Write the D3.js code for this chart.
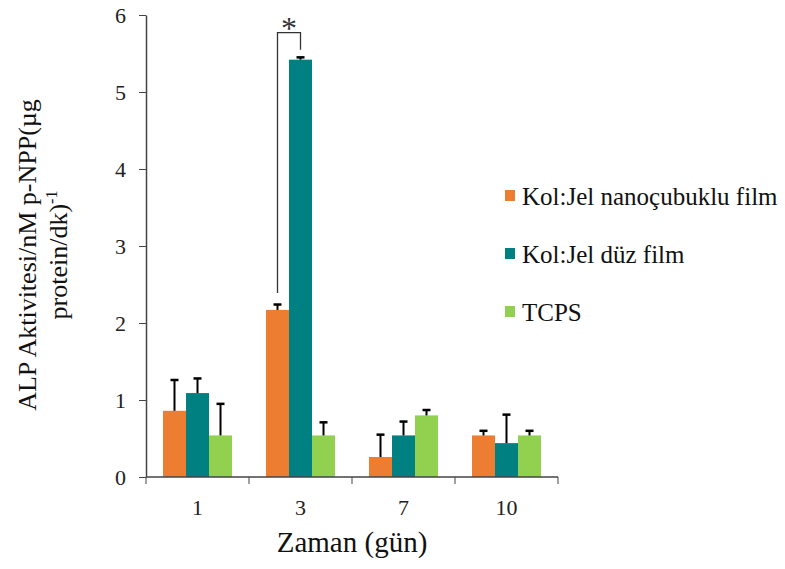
<!DOCTYPE html>
<html>
<head>
<meta charset="utf-8">
<script src="https://cdn.jsdelivr.net/npm/d3@7"></script>
<style>
  body { margin: 0; background: #fff; }
  svg text { font-family: "Liberation Serif", "Times New Roman", serif; }
</style>
</head>
<body>
<div class="container"></div>
<script>
const days = ["1", "3", "7", "10"];
const seriesNames = ["Kol:Jel nanoçubuklu film", "Kol:Jel düz film", "TCPS"];
const colors = ["#ED7D31", "#008080", "#92D050"];
const nanoValues = [0.86, 2.17, 0.26, 0.54];
const nanoErr = [0.40, 0.07, 0.29, 0.06];
const flatValues = [1.09, 5.42, 0.54, 0.44];
const flatErr = [0.19, 0.03, 0.18, 0.37];
const tcpsValues = [0.54, 0.54, 0.80, 0.54];
const tcpsErr = [0.41, 0.17, 0.07, 0.06];
const yTicks = [0, 1, 2, 3, 4, 5, 6];

const w = 785, h = 569;
const margin = {top: 15, left: 146, bottom: 92, right: 227};

const svg = d3.select('.container')
    .append('svg')
    .attr('width', w)
    .attr('height', h);

const series = [
    {values: nanoValues, err: nanoErr},
    {values: flatValues, err: flatErr},
    {values: tcpsValues, err: tcpsErr}
];

const x = d3.scaleBand()
    .domain(days)
    .range([margin.left, w - margin.right])
    .paddingInner(0.33)
    .paddingOuter(0.165);

const xSub = d3.scaleBand()
    .domain(d3.range(series.length))
    .range([0, x.bandwidth()]);

const y = d3.scaleLinear()
    .domain([0, 6])
    .range([h - margin.bottom, margin.top]);

// bars
series.forEach((s, si) => {
    svg.append('g')
        .selectAll('rect')
        .data(s.values)
        .enter()
        .append('rect')
        .attr('x', (d, i) => x(days[i]) + xSub(si))
        .attr('y', d => y(d))
        .attr('width', xSub.bandwidth())
        .attr('height', d => y(0) - y(d))
        .style('fill', colors[si]);

    // error bars (upper only)
    const eb = svg.append('g').attr('stroke', '#000');
    s.values.forEach((v, i) => {
        const cx = x(days[i]) + xSub(si) + xSub.bandwidth() / 2;
        eb.append('line')
            .attr('x1', cx).attr('x2', cx)
            .attr('y1', y(v)).attr('y2', y(v + s.err[i]))
            .attr('stroke-width', 2);
        eb.append('line')
            .attr('x1', cx - 4).attr('x2', cx + 4)
            .attr('y1', y(v + s.err[i])).attr('y2', y(v + s.err[i]))
            .attr('stroke-width', 2.5);
    });
});

// y axis
svg.append('g')
    .attr('transform', `translate(${margin.left},0)`)
    .call(d3.axisLeft(y).tickValues(yTicks).tickFormat(d3.format('d'))
        .tickSize(7).tickSizeOuter(0).tickPadding(13))
    .call(g => g.selectAll('text')
        .style('font-size', '22px')
        .style('font-family', '"Liberation Serif", serif')
        .attr('fill', '#222'))
    .call(g => g.select('.domain').attr('stroke', '#444').attr('stroke-width', 1.5))
    .call(g => g.selectAll('.tick line').attr('stroke', '#444'));

// x axis with ticks at band boundaries
const xAxisG = svg.append('g')
    .attr('transform', `translate(0,${y(0)})`);
xAxisG.append('line')
    .attr('x1', margin.left).attr('x2', w - margin.right)
    .attr('stroke', '#444').attr('stroke-width', 1.5);
const step = x.step();
const bounds = days.map(d => x(d) - x.paddingInner() * step / 2).concat([w - margin.right]);
xAxisG.selectAll('.bt')
    .data(bounds)
    .enter()
    .append('line')
    .attr('x1', d => d).attr('x2', d => d)
    .attr('y1', 0).attr('y2', 7)
    .attr('stroke', '#444');
xAxisG.selectAll('text')
    .data(days)
    .enter()
    .append('text')
    .attr('x', d => x(d) + x.bandwidth() / 2)
    .attr('y', 38)
    .attr('text-anchor', 'middle')
    .style('font-size', '22px')
    .attr('fill', '#222')
    .text(d => d);

// x title
svg.append('text')
    .attr('x', (margin.left + w - margin.right) / 2)
    .attr('y', 552)
    .attr('text-anchor', 'middle')
    .style('font-size', '29px')
    .attr('fill', '#111')
    .text('Zaman  (gün)');

// y title
const yt = svg.append('text')
    .attr('transform', 'translate(0,255) rotate(-90)')
    .attr('text-anchor', 'middle')
    .style('font-size', '26px')
    .attr('fill', '#111');
yt.append('tspan').attr('x', 0).attr('y', 36).text('ALP Aktivitesi/nM  p-NPP(µg');
yt.append('tspan').attr('x', 0).attr('y', 67).text('protein/dk)');
yt.append('tspan').attr('dy', -10).style('font-size', '16px').text('-1');

// significance bracket
const g3 = x('3');
const bx1 = g3 + xSub(0) + xSub.bandwidth() / 2;
const bx2 = g3 + xSub(1) + xSub.bandwidth() / 2;
svg.append('path')
    .attr('d', `M${bx1},${y(2.39)}V${y(5.77)}H${bx2}V${y(5.55)}`)
    .attr('fill', 'none')
    .attr('stroke', '#333')
    .attr('stroke-width', 1.3);
svg.append('text')
    .attr('x', (bx1 + bx2) / 2)
    .attr('y', y(5.77) + 6)
    .attr('text-anchor', 'middle')
    .style('font-size', '32px')
    .attr('fill', '#333')
    .text('*');

// legend
const legend = svg.append('g')
    .attr('transform', 'translate(505,196)');
seriesNames.forEach((name, i) => {
    const row = legend.append('g').attr('transform', `translate(0,${i * 58})`);
    row.append('rect')
        .attr('x', 0).attr('y', -6)
        .attr('width', 10).attr('height', 11)
        .style('fill', colors[i]);
    row.append('text')
        .attr('x', 17).attr('y', 9)
        .style('font-size', '25px')
        .attr('fill', '#111')
        .text(name);
});
</script>
</body>
</html>
